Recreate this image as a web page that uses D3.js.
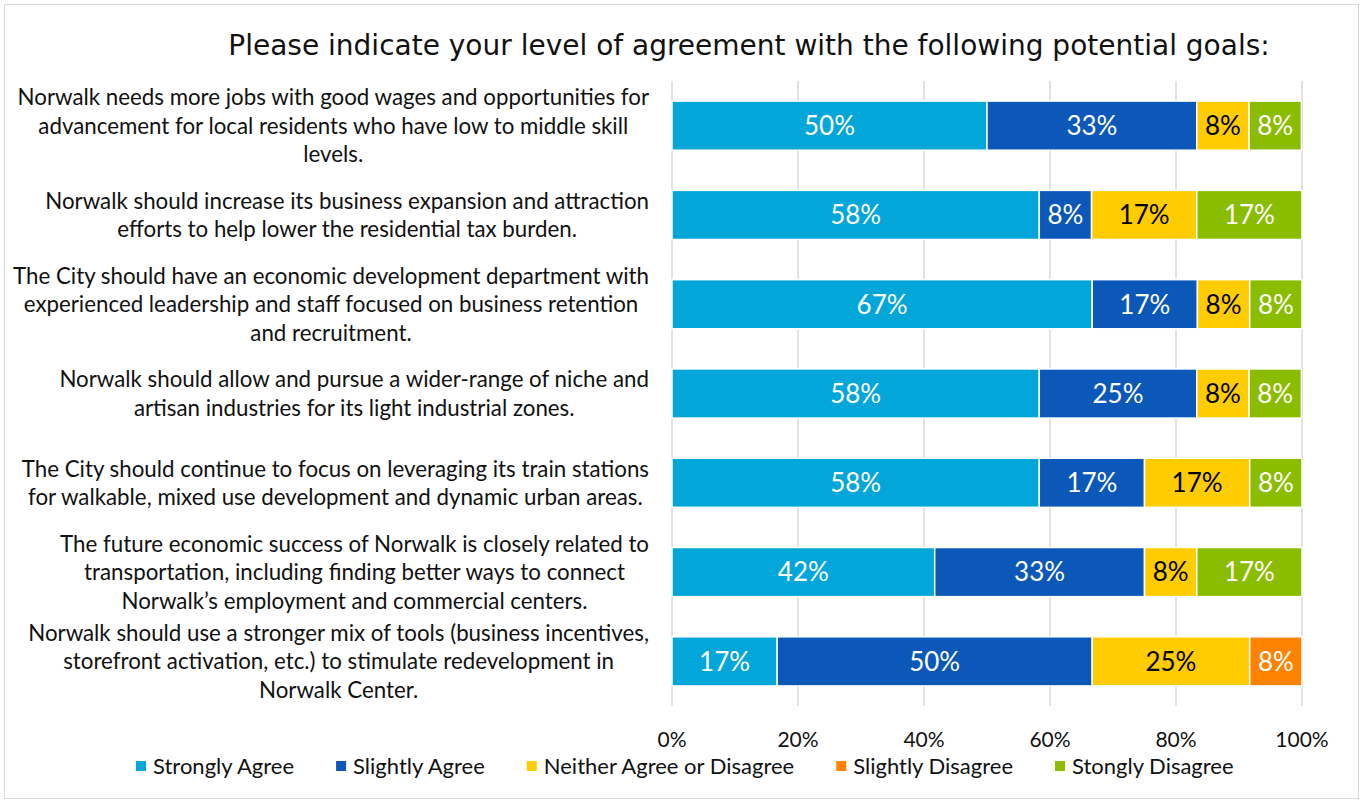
<!DOCTYPE html>
<html>
<head>
<meta charset="utf-8">
<script src="https://cdn.jsdelivr.net/npm/d3@7"></script>
<style>
  body { margin: 0; background: #fff; }
  svg { display: block; }
</style>
</head>
<body>
<svg width="1363" height="803"></svg>
<script>
var svg = d3.select("svg"),
    width = +svg.attr("width"),
    height = +svg.attr("height");

// survey statements (wrapped as in the original)
var questions = [
  ["Norwalk needs more jobs with good wages and opportunities for", "advancement for local residents who have low to middle skill", "levels."],
  ["Norwalk should increase its business expansion and attraction", "efforts to help lower the residential tax burden."],
  ["The City should have an economic development department with", "experienced leadership and staff focused on business retention", "and recruitment."],
  ["Norwalk should allow and pursue a wider-range of niche and", "artisan industries for its light industrial zones."],
  ["The City should continue to focus on leveraging its train stations", "for walkable, mixed use development and dynamic urban areas."],
  ["The future economic success of Norwalk is closely related to", "transportation, including finding better ways to connect", "Norwalk\u2019s employment and commercial centers."],
  ["Norwalk should use a stronger mix of tools (business incentives,", "storefront activation, etc.) to stimulate redevelopment in", "Norwalk Center."]
];

var responses = ["Strongly Agree", "Slightly Agree", "Neither Agree or Disagree", "Slightly Disagree", "Stongly Disagree"];

// percent of respondents, one array per response, in question order
var stronglyAgree    = [50.0, 58.3, 66.7, 58.3, 58.3, 41.7, 16.7];
var slightlyAgree    = [33.3,  8.3, 16.7, 25.0, 16.7, 33.3, 50.0];
var neither          = [ 8.3, 16.7,  8.3,  8.3, 16.7,  8.3, 25.0];
var slightlyDisagree = [ 0.0,  0.0,  0.0,  0.0,  0.0,  0.0,  8.3];
var stronglyDisagree = [ 8.3, 16.7,  8.3,  8.3,  8.3, 16.7,  0.0];

var xTicks = [0, 20, 40, 60, 80, 100];

var colors = ["#02a6d8", "#0b58b8", "#ffcc00", "#ff8200", "#8abd00"];
var labelColors = ["#fff", "#fff", "#000", "#fff", "#fff"];

var series = [stronglyAgree, slightlyAgree, neither, slightlyDisagree, stronglyDisagree];

// build rows for the stack
var rows = questions.map(function(q, i) {
  var r = { id: i };
  responses.forEach(function(k, j) { r[k] = series[j][i]; });
  return r;
});

var stacked = d3.stack().keys(responses)(rows);

var x = d3.scaleLinear().domain([0, 100]).range([672, 1302]);
var y = d3.scaleBand().domain(d3.range(questions.length)).range([81, 706])
    .paddingInner(0.45).paddingOuter(0.225);

// chart border
svg.append("rect")
    .attr("x", 4.5).attr("y", 4.5)
    .attr("width", width - 9).attr("height", height - 9)
    .attr("fill", "#fff")
    .attr("stroke", "#d9d9d9");

// title
svg.append("text")
    .attr("x", 749)
    .attr("y", 55)
    .attr("text-anchor", "middle")
    .style("font-family", "DejaVu Sans, sans-serif")
    .style("font-size", "28px")
    .style("fill", "#111")
    .text("Please indicate your level of agreement with the following potential goals:");

// gridlines
svg.append("g")
    .selectAll("line")
    .data(xTicks)
    .enter().append("line")
      .attr("x1", function(d) { return x(d); })
      .attr("x2", function(d) { return x(d); })
      .attr("y1", 81)
      .attr("y2", 706)
      .attr("stroke", "#d9d9d9")
      .attr("stroke-width", 1.5);

// tick labels
svg.append("g")
    .selectAll("text")
    .data(xTicks)
    .enter().append("text")
      .attr("x", function(d) { return x(d); })
      .attr("y", 747)
      .attr("text-anchor", "middle")
      .style("font-family", "Lato, sans-serif")
      .style("font-size", "21px")
      .style("fill", "#111")
      .text(function(d) { return d + "%"; });

// bars
var layer = svg.append("g").selectAll("g.layer")
    .data(stacked)
    .enter().append("g")
      .attr("class", "layer")
      .attr("fill", function(d, i) { return colors[i]; });

layer.selectAll("rect")
    .data(function(d) { return d.filter(function(s) { return s[1] - s[0] > 0; }); })
    .enter().append("rect")
      .attr("x", function(d) { return x(d[0]); })
      .attr("y", function(d) { return y(d.data.id); })
      .attr("width", function(d) { return x(d[1]) - x(d[0]); })
      .attr("height", y.bandwidth())
      .attr("stroke", "#fff")
      .attr("stroke-width", 1.5);

layer.selectAll("text")
    .data(function(d, i) {
      return d.filter(function(s) { return s[1] - s[0] > 0; })
              .map(function(s) { s.k = i; return s; });
    })
    .enter().append("text")
      .attr("x", function(d) { return (x(d[0]) + x(d[1])) / 2; })
      .attr("y", function(d) { return y(d.data.id) + y.bandwidth() / 2; })
      .attr("dy", "0.36em")
      .attr("text-anchor", "middle")
      .style("font-family", "Lato, sans-serif")
      .style("font-size", "26px")
      .style("fill", function(d) { return labelColors[d.k]; })
      .text(function(d) { return Math.round(d[1] - d[0]) + "%"; });

// category labels: each block centered, widest line ends at the right edge
var labelRight = 649,
    lineH = 28.5;
var qg = svg.append("g").selectAll("text.q")
    .data(questions)
    .enter().append("text")
      .attr("class", "q")
      .attr("text-anchor", "middle")
      .style("font-family", "Lato, sans-serif")
      .style("font-size", "22.3px")
      .style("fill", "#111");

qg.each(function(lines, i) {
  var t = d3.select(this);
  var cy = y(i) + y.bandwidth() / 2;
  var top = cy - (lines.length - 1) * lineH / 2;
  lines.forEach(function(l, j) {
    t.append("tspan")
      .attr("y", top + j * lineH)
      .attr("dy", "0.36em")
      .text(l);
  });
  var maxW = 0;
  t.selectAll("tspan").each(function() {
    maxW = Math.max(maxW, this.getComputedTextLength());
  });
  t.selectAll("tspan").attr("x", labelRight - maxW / 2);
});

// legend
var legend = svg.append("g").attr("transform", "translate(136,766)");
var lx = 0;
responses.forEach(function(r, i) {
  var g = legend.append("g").attr("transform", "translate(" + lx + ",0)");
  g.append("rect")
    .attr("x", 0).attr("y", -5)
    .attr("width", 10).attr("height", 10)
    .attr("fill", colors[i]);
  var t = g.append("text")
    .attr("x", 17)
    .attr("dy", "0.36em")
    .style("font-family", "Lato, sans-serif")
    .style("font-size", "22px")
    .style("fill", "#111")
    .text(r);
  lx += 17 + t.node().getComputedTextLength() + 42;
});
</script>
</body>
</html>
